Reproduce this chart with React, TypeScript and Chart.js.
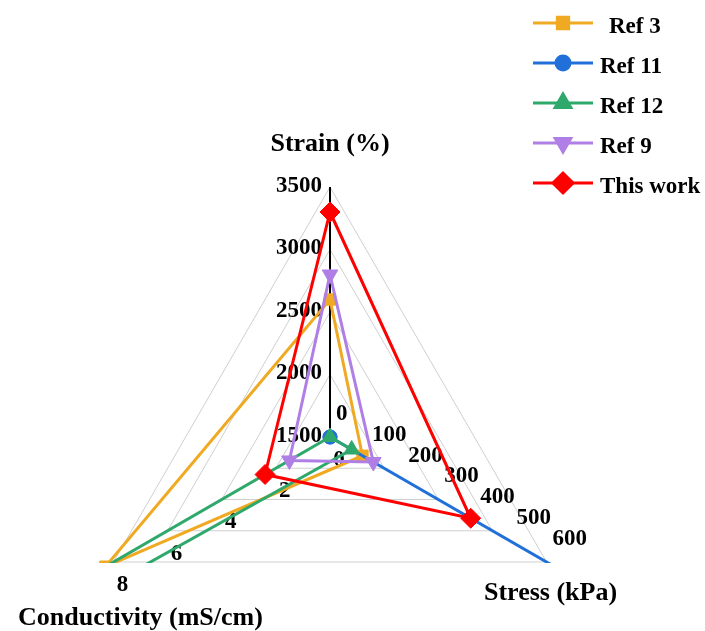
import React, { useEffect, useRef } from 'react';
import { Chart, registerables } from 'chart.js';
import { drawPoint } from 'chart.js/helpers';

Chart.register(...registerables);

// Axes (clockwise from the top) and their own value ranges
const axisTitles = ['Strain (%)', 'Stress (kPa)', 'Conductivity (mS/cm)'];
const axisMin = [1500, 0, 0];
const axisMax = [3500, 600, 8];

// Tick labels printed along each axis
const strainTicks = [1500, 2000, 2500, 3000, 3500];
const stressTicks = [0, 100, 200, 300, 400, 500, 600];
const conductivityTicks = [0, 2, 4, 6, 8];

// Series values: [strain, stress, conductivity]
const seriesNames = ['Ref 3', 'Ref 11', 'Ref 12', 'Ref 9', 'This work'];
const ref3 = [2600, 90, 8.3];
const ref11 = [1500, 700, 0];
const ref12 = [1500, 60, 50];
const ref9 = [2800, 120, 1.5];
const thisWork = [3300, 390, 2.4];
const seriesValues = [ref3, ref11, ref12, ref9, thisWork];

const colors = ['#F0A922', '#2170DA', '#2FA86C', '#B07FE6', '#FF0000'];
const markerStyles = ['rect', 'circle', 'triangle', 'triangle', 'rectRot'];
const markerRotation = [0, 0, 0, 180, 0];
const markerRadius = [8, 7, 9, 9, 10];

const FONT = '"Liberation Serif", "Times New Roman", serif';

const norm = (axis: number, v: number) => (v - axisMin[axis]) / (axisMax[axis] - axisMin[axis]);

const annotations = {
  id: 'radarAnnotations',
  beforeDatasetsDraw(chart: any) {
    const r = chart.scales.r;
    const ctx = chart.ctx;
    ctx.save();
    ctx.fillStyle = '#000';
    ctx.font = `bold 23px ${FONT}`;
    ctx.textBaseline = 'middle';
    ctx.textAlign = 'right';
    strainTicks.forEach((v) => {
      const p = r.getPointPositionForValue(0, norm(0, v));
      ctx.fillText(String(v), p.x - 8, p.y - 1);
    });
    ctx.textAlign = 'left';
    stressTicks.forEach((v) => {
      const p = r.getPointPositionForValue(1, norm(1, v));
      ctx.fillText(String(v), p.x + 6, p.y - 23);
    });
    ctx.textAlign = 'center';
    conductivityTicks.forEach((v) => {
      const p = r.getPointPositionForValue(2, norm(2, v));
      ctx.fillText(String(v), p.x + 9, p.y + 23);
    });
    ctx.restore();
  },
  afterDraw(chart: any) {
    const r = chart.scales.r;
    const ctx = chart.ctx;
    ctx.save();
    ctx.fillStyle = '#000';
    ctx.textBaseline = 'middle';
    ctx.textAlign = 'center';
    ctx.font = `bold 26px ${FONT}`;
    const titleOffsets = [
      [0, -43],
      [4, 31],
      [27, 56],
    ];
    axisTitles.forEach((t, i) => {
      const p = r.getPointPositionForValue(i, 1);
      ctx.fillText(t, p.x + titleOffsets[i][0], p.y + titleOffsets[i][1]);
    });

    // legend: line with marker in the middle, then the name
    ctx.font = `bold 23px ${FONT}`;
    ctx.textAlign = 'left';
    chart.data.datasets.forEach((ds: any, i: number) => {
      const y = 23 + 40 * i;
      ctx.strokeStyle = colors[i];
      ctx.lineWidth = 3;
      ctx.beginPath();
      ctx.moveTo(533, y);
      ctx.lineTo(593, y);
      ctx.stroke();
      ctx.fillStyle = colors[i];
      drawPoint(ctx, {
        pointStyle: markerStyles[i],
        rotation: markerRotation[i],
        radius: markerRadius[i],
        borderWidth: 1,
      } as any, 563, y);
      ctx.fillStyle = '#000';
      ctx.fillText(ds.label, i === 0 ? 609 : 600, y + 4);
    });
    ctx.restore();
  },
};

export default function App() {
  const canvasRef = useRef<HTMLCanvasElement | null>(null);

  useEffect(() => {
    if (!canvasRef.current) return;
    const chart = new Chart(canvasRef.current, {
      type: 'radar',
      data: {
        labels: axisTitles,
        datasets: seriesValues.map((vals, i) => ({
          label: seriesNames[i],
          data: vals.map((v, k) => norm(k, v)),
          borderColor: colors[i],
          backgroundColor: colors[i],
          borderWidth: 3,
          fill: false,
          tension: 0,
          pointStyle: markerStyles[i] as any,
          pointRotation: markerRotation[i],
          pointRadius: markerRadius[i],
          pointBorderWidth: 1,
          pointBorderColor: colors[i],
          pointBackgroundColor: colors[i],
          order: seriesValues.length - 1 - i,
          clip: { left: false, top: false, right: false, bottom: -124 } as any,
        })),
      },
      options: {
        responsive: false,
        animation: false,
        devicePixelRatio: 1,
        events: [],
        layout: { padding: { left: 80, right: 125, top: 187, bottom: 187 } },
        plugins: {
          legend: { display: false },
          tooltip: { enabled: false },
        },
        scales: {
          r: {
            min: 0,
            max: 1,
            startAngle: 0,
            ticks: { display: false, stepSize: 0.25 },
            pointLabels: { display: false },
            grid: { color: '#CFCFCF', lineWidth: 1, circular: false },
            angleLines: {
              display: true,
              color: (c: any) => (c.index === 0 ? '#000000' : 'rgba(0,0,0,0)'),
              lineWidth: (c: any) => (c.index === 0 ? 2 : 0),
            },
          },
        },
      },
      plugins: [annotations],
    });
    return () => chart.destroy();
  }, []);

  return (
    <div
      style={{
        position: 'fixed',
        left: 0,
        top: 0,
        width: 705,
        height: 631,
        overflow: 'hidden',
        background: '#fff',
      }}
    >
      <canvas ref={canvasRef} width={705} height={874} style={{ display: 'block' }} />
    </div>
  );
}
